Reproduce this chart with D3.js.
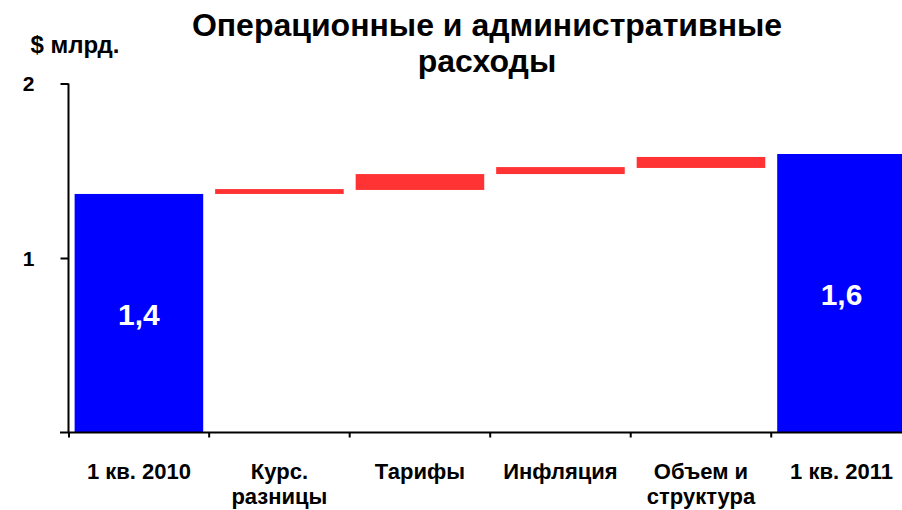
<!DOCTYPE html>
<html><head><meta charset="utf-8">
<script src="https://cdn.jsdelivr.net/npm/d3@7"></script>
<style>body{margin:0;background:#fff;} svg{display:block;font-family:"Liberation Sans",Arial,sans-serif;font-weight:bold;}</style>
</head><body>
<svg id="c" width="902" height="510"></svg>
<script>
const categories = [["1 кв. 2010"], ["Курс.", "разницы"], ["Тарифы"], ["Инфляция"], ["Объем и", "структура"], ["1 кв. 2011"]];
const lows  = [0, 1.367, 1.390, 1.481, 1.516, 0];
const highs = [1.367, 1.395, 1.481, 1.521, 1.579, 1.596];
const kinds = ["total", "delta", "delta", "delta", "delta", "total"];
const barLabels = ["1,4", "", "", "", "", "1,6"];
const yTicks = [0, 1, 2];

const svg = d3.select("#c");
const x = d3.scaleBand().domain(d3.range(categories.length)).range([69, 911.4]).paddingInner(0.085).paddingOuter(0.04);
const y = d3.scaleLinear().domain([0, 2]).range([432.5, 83.5]);

svg.append("g").selectAll("rect").data(d3.range(categories.length)).join("rect")
  .attr("x", i => x(i)).attr("width", x.bandwidth())
  .attr("y", i => y(highs[i])).attr("height", i => y(lows[i]) - y(highs[i]))
  .attr("fill", i => kinds[i] === "total" ? "#0000FF" : "#FF3333");

svg.append("g").selectAll("text").data(d3.range(categories.length).filter(i => barLabels[i])).join("text")
  .attr("x", i => x(i) + x.bandwidth() / 2)
  .attr("y", i => (y(highs[i]) + y(0)) / 2 + 12)
  .attr("text-anchor", "middle").attr("fill", "#fff").attr("font-size", 30)
  .text(i => barLabels[i]);

// y axis
const yAxis = svg.append("g").attr("transform", "translate(68.5,0)")
  .call(d3.axisLeft(y).tickValues(yTicks).tickSize(8).tickFormat(d => d === 0 ? "" : d));
yAxis.select(".domain").attr("stroke", "#000").attr("stroke-width", 2).attr("d", `M0,${y(2)}V${y(0)}`);
yAxis.selectAll(".tick line").attr("stroke", "#000").attr("stroke-width", 2);
yAxis.selectAll(".tick text").attr("x", -34).attr("font-size", 21).attr("font-weight", "bold").attr("fill", "#000")
  .attr("font-family", "Liberation Sans, Arial, sans-serif").attr("dy", "0.35em");
yAxis.selectAll(".tick").filter(d => d === 0).select("line").remove();

// x axis
const xAxisG = svg.append("g").attr("transform", `translate(0,${y(0)})`);
xAxisG.append("line").attr("x1", 60).attr("x2", 902).attr("y1", 0).attr("y2", 0).attr("stroke", "#000").attr("stroke-width", 2);
const boundaries = d3.range(categories.length).map(i => i === 0 ? 69 : x(i) - x.step() * x.paddingInner() / 2);
xAxisG.selectAll(".xt").data(boundaries).join("line").attr("class", "xt")
  .attr("x1", d => d).attr("x2", d => d).attr("y1", 0).attr("y2", 5).attr("stroke", "#000").attr("stroke-width", 2);

const xl = svg.append("g").selectAll("text").data(d3.range(categories.length)).join("text")
  .attr("y", 479).attr("text-anchor", "middle").attr("font-size", 22).attr("fill", "#000");
xl.each(function(i) {
  const t = d3.select(this);
  categories[i].forEach((line, k) => t.append("tspan").attr("x", x(i) + x.bandwidth() / 2).attr("dy", k === 0 ? 0 : 25).text(line));
});

svg.append("text").attr("x", 75).attr("y", 53).attr("text-anchor", "middle").attr("font-size", 24).text("$ млрд.");
const title = svg.append("text").attr("x", 487).attr("text-anchor", "middle").attr("font-size", 32).attr("fill", "#000");
title.append("tspan").attr("x", 487).attr("y", 36).text("Операционные и административные");
title.append("tspan").attr("x", 487).attr("y", 72).text("расходы");
</script>
</body></html>
